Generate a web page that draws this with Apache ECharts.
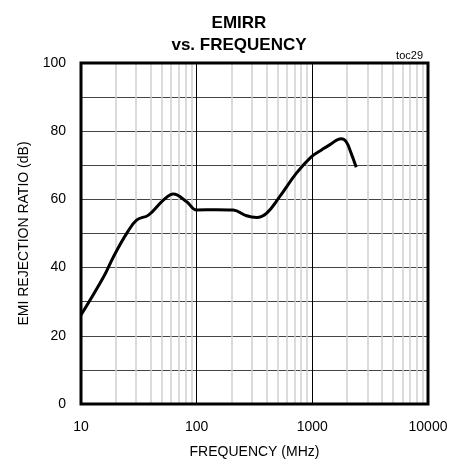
<!DOCTYPE html>
<html>
<head>
<meta charset="utf-8">
<script src="https://cdn.jsdelivr.net/npm/echarts@6/dist/echarts.min.js"></script>
<style>
  html, body { margin: 0; padding: 0; background: #fff; }
  #chart { width: 457px; height: 466px; }
</style>
</head>
<body>
<div id="chart"></div>
<script>
  // frequency in MHz, EMIRR in dB
  var freqMHz = [10, 15.7, 19.1, 24.9, 30.4, 38.3, 51.5, 62.8, 82, 100, 150, 207, 270, 330, 401, 522, 728, 979, 1200, 1410, 1778, 1963, 2168, 2395];
  var emirrDb = [26.1, 37.3, 43.2, 50.1, 54.0, 55.4, 59.8, 61.6, 59.3, 56.9, 57.0, 56.9, 55.2, 54.7, 55.9, 60.8, 67.7, 72.5, 74.5, 76.0, 77.8, 76.9, 73.5, 69.4];
  // light vertical grid lines between decades
  var minorFreqs = [20, 30, 40, 50, 60, 70, 80, 90, 200, 300, 400, 500, 600, 700, 800, 900, 2000, 3000, 4000, 5000, 6000, 7000, 8000, 9000];

  var font = "'Liberation Sans', Arial, sans-serif";

  var curve = [];
  for (var i = 0; i < freqMHz.length; i++) {
    curve.push([freqMHz[i], emirrDb[i]]);
  }
  var minorLines = [];
  for (var j = 0; j < minorFreqs.length; j++) {
    minorLines.push({ xAxis: minorFreqs[j] });
  }

  var chart = echarts.init(document.getElementById('chart'), null, { renderer: 'canvas' });
  chart.setOption({
    animation: false,
    title: [
      {
        text: 'EMIRR\nvs. FREQUENCY',
        left: 234,
        top: 7,
        textAlign: 'center',
        textStyle: { fontFamily: font, fontSize: 17, fontWeight: 'bold', color: '#000', lineHeight: 22 }
      },
      {
        text: 'toc29',
        right: 29,
        top: 45,
        textStyle: { fontFamily: font, fontSize: 11, fontWeight: 'normal', color: '#000' }
      }
    ],
    grid: {
      left: 81,
      right: 29,
      top: 63,
      bottom: 62,
      show: true,
      borderColor: '#000',
      borderWidth: 3,
      z: 6
    },
    xAxis: {
      type: 'log',
      logBase: 10,
      min: 10,
      max: 10000,
      name: 'FREQUENCY (MHz)',
      nameLocation: 'middle',
      nameGap: 41,
      nameTextStyle: { fontFamily: font, fontSize: 14, color: '#000' },
      axisLine: { show: false },
      axisTick: { show: false },
      axisLabel: {
        fontFamily: font, fontSize: 14, color: '#000', margin: 16,
        formatter: function (v) { return String(Math.round(v)); }
      },
      splitLine: { show: true, lineStyle: { color: '#000', width: 1 } },
      z: 4
    },
    yAxis: {
      type: 'value',
      min: 0,
      max: 100,
      interval: 10,
      name: 'EMI REJECTION RATIO (dB)',
      nameLocation: 'middle',
      nameGap: 50,
      nameTextStyle: { fontFamily: font, fontSize: 14, color: '#000' },
      axisLine: { show: false },
      axisTick: { show: false },
      axisLabel: {
        fontFamily: font, fontSize: 14, color: '#000', margin: 15,
        formatter: function (v) { return v % 20 === 0 ? String(v) : ''; }
      },
      splitLine: { show: true, lineStyle: { color: '#444', width: 1.2 } }
    },
    series: [
      {
        type: 'line',
        data: [],
        silent: true,
        z: 1,
        markLine: {
          silent: true,
          symbol: ['none', 'none'],
          label: { show: false },
          lineStyle: { color: '#cfcfcf', width: 1.5, type: 'solid' },
          data: minorLines
        }
      },
      {
        name: 'EMIRR',
        type: 'line',
        data: curve,
        smooth: 0.4,
        showSymbol: false,
        lineStyle: { color: '#000', width: 3 },
        z: 5
      }
    ]
  });
</script>
</body>
</html>
